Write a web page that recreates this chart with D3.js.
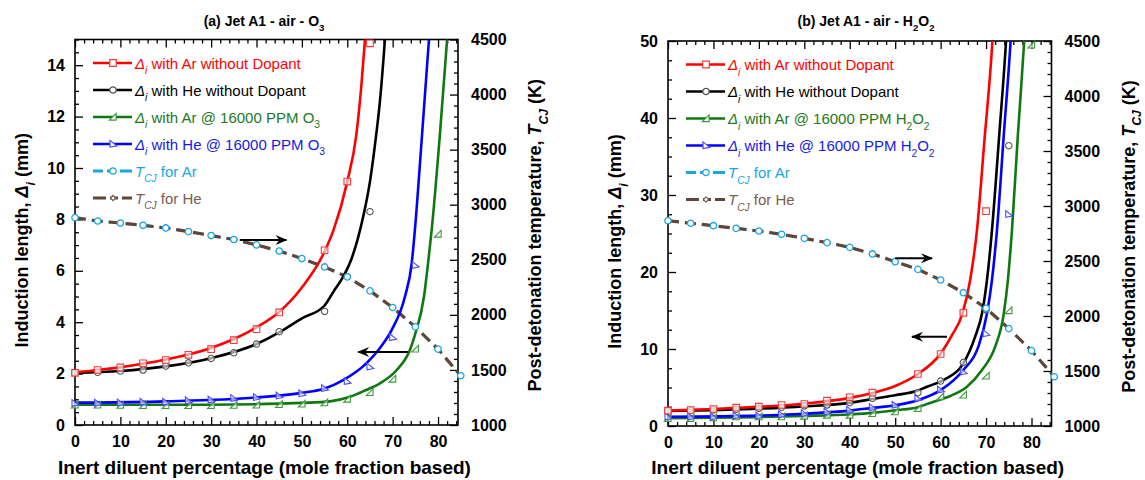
<!DOCTYPE html>
<html>
<head>
<meta charset="utf-8">
<script src="https://cdn.jsdelivr.net/npm/d3@7"></script>
<style>
  html, body { margin: 0; padding: 0; background: #fff; }
  svg { display: block; font-family: "Liberation Sans", Arial, sans-serif; }
</style>
</head>
<body>
<svg id="chart" width="1145" height="480"></svg>
<script>
// ---------------- data ----------------
const diluentPct = [0, 5, 10, 15, 20, 25, 30, 35, 40, 45, 50, 55, 60, 65, 70, 75, 80, 85];
const xTickLabels = [0, 10, 20, 30, 40, 50, 60, 70, 80];
const tempTickLabels = [1000, 1500, 2000, 2500, 3000, 3500, 4000, 4500];
const inductionTicksA = [0, 2, 4, 6, 8, 10, 12, 14];
const inductionTicksB = [0, 10, 20, 30, 40, 50];

// (a) Jet A1 - air - O3 : computed points [diluent %, induction length mm]
const aArPlainPts = [[0,2.03],[5,2.14],[10,2.24],[15,2.4],[20,2.53],[25,2.73],[30,2.95],[35,3.3],[40,3.73],[45,4.38],[55,6.8],[60,9.47],[65,14.85]];
const aHePlainPts = [[0,2.03],[5,2.05],[10,2.1],[15,2.14],[20,2.29],[25,2.42],[30,2.59],[35,2.81],[40,3.15],[45,3.63],[55,4.42],[60,5.77],[65,8.3]];
const aArDopPts = [[0,0.78],[5,0.78],[10,0.77],[15,0.76],[20,0.76],[25,0.76],[30,0.76],[35,0.77],[40,0.78],[45,0.8],[50,0.82],[55,0.87],[60,1.01],[65,1.27],[70,1.79],[75,2.96],[80,7.43]];
const aHeDopPts = [[0,0.85],[5,0.86],[10,0.87],[15,0.9],[20,0.9],[25,0.95],[30,0.98],[35,1.04],[40,1.08],[45,1.14],[50,1.23],[55,1.43],[60,1.7],[65,2.27],[70,3.41],[75,6.22]];
// (a) fitted curves
const aArPlainFit = [[0,2.05],[10,2.25],[20,2.55],[30,3.0],[40,3.8],[45,4.4],[50,5.35],[55,6.75],[57,7.6],[60,9.47],[62,11.3],[63.1,13.2],[63.9,15],[64.3,16]];
const aHePlainFit = [[0,2.03],[10,2.1],[20,2.28],[30,2.6],[40,3.15],[45,3.6],[50,4.15],[55,4.65],[57,5.2],[59.1,5.77],[61,6.5],[62.4,7.3],[63.5,8.1],[65,9.47],[66.1,10.9],[67.2,12.6],[68.3,15],[68.7,16]];
const aArDopFit = [[0,0.79],[30,0.79],[45,0.83],[50,0.86],[56.2,0.92],[60.6,1.1],[64,1.35],[67.2,1.62],[70.9,2.14],[73.8,2.92],[74.9,3.5],[76.9,4.99],[77.8,6.29],[78.6,7.59],[80.4,11.28],[82,15],[82.4,16]];
const aHeDopFit = [[0,0.87],[20,0.92],[40,1.07],[50,1.25],[55,1.42],[59.1,1.75],[64.2,2.4],[67,2.95],[69.8,3.7],[72.7,4.99],[74.2,6.29],[74.9,7.59],[76.4,11.1],[78,15],[78.4,16]];
// (a) post-detonation temperature, K
const aTcjAr = [2883,2852,2834,2813,2789,2756,2720,2684,2635,2580,2511,2435,2345,2218,2067,1891,1689,1447];
const aTcjHe = [2883,2852,2834,2813,2789,2756,2720,2684,2635,2580,2511,2435,2345,2218,2067,1891,1689,1447];

// (b) Jet A1 - air - H2O2 : computed points
const bArPlainPts = [[0,1.99],[5,2.08],[10,2.21],[15,2.38],[20,2.51],[25,2.73],[30,2.86],[35,3.29],[40,3.72],[45,4.33],[55,6.75],[60,9.35],[65,14.7],[70,27.9]];
const bHePlainPts = [[0,1.95],[5,1.99],[10,2.08],[15,2.16],[20,2.29],[25,2.42],[30,2.6],[35,2.73],[40,3.03],[45,3.59],[55,4.33],[60,5.84],[65,8.25],[70,15.1],[75,36.4]];
const bArDopPts = [[0,1.0],[5,1.0],[10,1.08],[15,1.21],[20,1.21],[25,1.21],[30,1.3],[35,1.43],[40,1.43],[45,1.64],[50,1.86],[55,2.29],[60,3.81],[65,4.03],[70,6.5],[75,15.0],[80,49.5]];
const bHeDopPts = [[0,1.21],[5,1.21],[10,1.21],[15,1.34],[20,1.34],[25,1.51],[30,1.64],[35,1.86],[40,2.08],[45,2.42],[50,2.73],[55,3.59],[60,4.7],[65,7.06],[70,12.03],[75,27.5]];
// (b) fitted curves
const bArPlainFit = [[0,2.0],[10,2.2],[20,2.5],[30,2.9],[40,3.65],[45,4.3],[50,5.2],[55,6.75],[60,9.4],[62.5,11.8],[64.8,14.6],[66.5,18.96],[68,25.45],[69.6,36.8],[71.4,50],[71.6,52]];
const bHePlainFit = [[0,1.95],[10,2.05],[20,2.25],[30,2.55],[40,3.0],[45,3.5],[50,4.0],[55,4.6],[57,5.1],[60.6,5.97],[65,8.14],[67.6,11.6],[69.1,14.6],[70.2,18.96],[71.3,25.45],[72.9,37.8],[74.4,50],[74.6,52]];
const bArDopFit = [[0,1.0],[20,1.15],[30,1.3],[40,1.5],[45,1.7],[50,2.05],[55,2.45],[57.5,2.95],[60,3.45],[62.1,3.9],[65.8,5.1],[69.1,7.27],[72,10.3],[73.9,14.6],[74.8,18.96],[75.7,25.45],[77,37.8],[78.4,50],[78.6,52]];
const bHeDopFit = [[0,1.2],[20,1.35],[30,1.6],[40,2.0],[45,2.35],[50,2.7],[55,3.35],[60,4.65],[65,7.27],[68.3,10.3],[70.2,14.6],[71.3,18.96],[72.4,25.45],[73.9,37.8],[75.4,50],[75.6,52]];
// (b) post-detonation temperature, K
const bTcjAr = [2866,2843,2821,2797,2773,2743,2706,2667,2624,2564,2494,2424,2327,2212,2070,1885,1685,1448];
const bTcjHe = [2866,2843,2821,2797,2773,2743,2706,2667,2624,2564,2494,2424,2327,2212,2070,1885,1685,1448];

// arrows pointing to the axis each family belongs to: [x0, y0, x1, y1] in data units
const aArrowTemp = [36.3, 7.2, 46.6, 7.2];
const aArrowInd = [73.4, 2.84, 62.4, 2.84];
const bArrowTemp = [50, 21.8, 58.1, 21.8];
const bArrowInd = [61.4, 11.6, 53.7, 11.6];

// ---------------- styles ----------------
const C = {
  red: "#ff0000", redMk: "#f03c3c",
  black: "#000000", blackMk: "#555555",
  green: "#117811", greenMk: "#3c9a3c", greenTx: "#217a21",
  blue: "#0000ff", blueMk: "#4a4aff", blueTx: "#1818e6",
  cyan: "#1aa6df", brown: "#604538", brownTx: "#7a5d52"
};

const svg = d3.select("#chart");
const defs = svg.append("defs");
defs.append("marker")
  .attr("id", "arrowHead").attr("viewBox", "-12 -6 14 12")
  .attr("refX", 0).attr("refY", 0)
  .attr("markerWidth", 14).attr("markerHeight", 12)
  .attr("markerUnits", "userSpaceOnUse").attr("orient", "auto")
  .append("path").attr("d", "M1,0 L-11,-5 L-7,0 L-11,5 Z").attr("fill", "#000");

// marker shapes
const shapes = {
  square: "M-3.3,-3.3H3.3V3.3H-3.3Z",
  circle: d3.symbol(d3.symbolCircle, 32)(),
  triGreen: "M-3.6,3.1L3.1,3.1L3.1,-3.6Z",
  triBlue: "M-3,-3.6L-3,3.1L3.8,1.8Z",
  diamond: "M0,-2.6L2.6,0L0,2.6L-2.6,0Z"
};

// rich text: parts = [{t, i (italic), sub}]
function rich(sel, parts, size) {
  let shift = 0;
  parts.forEach(p => {
    const ts = sel.append("tspan").text(p.t);
    if (p.i) ts.attr("font-style", "italic");
    const target = p.sub ? size * 0.38 : 0;
    if (target !== shift) ts.attr("dy", target - shift);
    shift = target;
    if (p.sub) ts.attr("font-size", size * 0.68);
  });
}

function drawPanel(cfg) {
  const x = d3.scaleLinear().domain([0, 84.4]).range([cfg.left, cfg.right]);
  const y = d3.scaleLinear().domain([0, cfg.yMax]).range([cfg.bottom, cfg.top]);
  const yT = d3.scaleLinear().domain([1000, 4500]).range([cfg.bottom, cfg.top]);
  const g = svg.append("g");

  const clipId = "clip" + cfg.id;
  defs.append("clipPath").attr("id", clipId).append("rect")
    .attr("x", cfg.left).attr("y", cfg.top)
    .attr("width", cfg.right - cfg.left).attr("height", cfg.bottom - cfg.top);

  // axes: inward ticks, major + minor, mirrored x ticks on top
  const tickStyle = s => {
    s.select(".domain").remove();
    s.selectAll(".tick line").attr("stroke", "#000").attr("stroke-width", 1.3);
    s.selectAll(".tick text").attr("font-size", 16).attr("font-weight", "bold")
      .attr("font-family", "'Liberation Sans', Arial, sans-serif").attr("fill", "#000");
  };
  const xMinor = d3.range(0, 85, 2).filter(v => v % 10 !== 0);
  g.append("g").attr("transform", `translate(0,${cfg.bottom})`)
    .call(d3.axisBottom(x).tickValues(xTickLabels).tickSizeInner(-8).tickSizeOuter(0).tickPadding(11).tickFormat(d3.format("d")))
    .call(tickStyle);
  g.append("g").attr("transform", `translate(0,${cfg.bottom})`)
    .call(d3.axisBottom(x).tickValues(xMinor).tickSizeInner(-4).tickSizeOuter(0).tickFormat(""))
    .call(tickStyle);
  g.append("g").attr("transform", `translate(0,${cfg.top})`)
    .call(d3.axisTop(x).tickValues(xTickLabels).tickSizeInner(-8).tickSizeOuter(0).tickFormat(""))
    .call(tickStyle);
  g.append("g").attr("transform", `translate(0,${cfg.top})`)
    .call(d3.axisTop(x).tickValues(xMinor).tickSizeInner(-4).tickSizeOuter(0).tickFormat(""))
    .call(tickStyle);

  const yMinor = d3.range(0, cfg.yMax + 0.001, cfg.yMinorStep).filter(v => !cfg.yTicks.includes(v));
  g.append("g").attr("transform", `translate(${cfg.left},0)`)
    .call(d3.axisLeft(y).tickValues(cfg.yTicks).tickSizeInner(-8).tickSizeOuter(0).tickPadding(10).tickFormat(d3.format("d")))
    .call(tickStyle);
  g.append("g").attr("transform", `translate(${cfg.left},0)`)
    .call(d3.axisLeft(y).tickValues(yMinor).tickSizeInner(-4).tickSizeOuter(0).tickFormat(""))
    .call(tickStyle);

  const tMinor = d3.range(1100, 4500, 100).filter(v => v % 500 !== 0);
  g.append("g").attr("transform", `translate(${cfg.right},0)`)
    .call(d3.axisRight(yT).tickValues(tempTickLabels).tickSizeInner(-8).tickSizeOuter(0).tickPadding(13).tickFormat(d3.format("d")))
    .call(tickStyle);
  g.append("g").attr("transform", `translate(${cfg.right},0)`)
    .call(d3.axisRight(yT).tickValues(tMinor).tickSizeInner(-4).tickSizeOuter(0).tickFormat(""))
    .call(tickStyle);

  g.append("rect").attr("x", cfg.left).attr("y", cfg.top)
    .attr("width", cfg.right - cfg.left).attr("height", cfg.bottom - cfg.top)
    .attr("fill", "none").attr("stroke", "#000").attr("stroke-width", 1.6);

  // temperature curves (Ar underneath, He dashed on top)
  const tLine = d3.line().x((d, i) => x(diluentPct[i])).y(d => yT(d));
  const plot = g.append("g").attr("clip-path", `url(#${clipId})`);
  plot.append("path").attr("d", tLine(cfg.tAr)).attr("fill", "none")
    .attr("stroke", C.cyan).attr("stroke-width", 2.4).attr("stroke-dasharray", "11,6");
  plot.append("path").attr("d", tLine(cfg.tHe)).attr("fill", "none")
    .attr("stroke", C.brown).attr("stroke-width", 3.2).attr("stroke-dasharray", "11,6");

  // induction length fits
  const fitLine = d3.line().x(d => x(d[0])).y(d => y(d[1])).curve(d3.curveMonotoneX);
  cfg.series.forEach(s => {
    plot.append("path").attr("d", fitLine(s.fit)).attr("fill", "none")
      .attr("stroke", s.color).attr("stroke-width", 2.6);
  });

  // computed points
  const mk = g.append("g");
  cfg.series.forEach(s => {
    mk.selectAll(null).data(s.pts).join("path")
      .attr("d", shapes[s.shape])
      .attr("transform", d => `translate(${x(d[0])},${y(d[1])})`)
      .attr("fill", "#fff").attr("fill-opacity", 0.6)
      .attr("stroke", s.mk).attr("stroke-width", 1.1);
  });
  mk.selectAll(null).data(cfg.tHe).join("path")
    .attr("d", shapes.diamond)
    .attr("transform", (d, i) => `translate(${x(diluentPct[i])},${yT(d)})`)
    .attr("fill", "#fff").attr("stroke", C.brownTx).attr("stroke-width", 1);
  mk.selectAll(null).data(cfg.tAr).join("path")
    .attr("d", shapes.circle)
    .attr("transform", (d, i) => `translate(${x(diluentPct[i])},${yT(d)})`)
    .attr("fill", "#fff").attr("stroke", C.cyan).attr("stroke-width", 1.3);

  // arrows
  [cfg.arrowTemp, cfg.arrowInd].forEach(a => {
    g.append("line").attr("x1", x(a[0])).attr("y1", y(a[1]))
      .attr("x2", x(a[2])).attr("y2", y(a[3]))
      .attr("stroke", "#000").attr("stroke-width", 2)
      .attr("marker-end", "url(#arrowHead)");
  });

  // legend
  const lg = g.append("g");
  const rowY = i => cfg.top + 23.5 + i * 27;
  const lx0 = cfg.left + 18, lx1 = cfg.left + 57, lxm = cfg.left + 38, ltx = cfg.left + 60;
  const delta = [{t: "Δ", i: true}, {t: "i", i: true, sub: true}];
  const tcj = [{t: "T", i: true}, {t: "CJ", i: true, sub: true}];
  const legendRows = [
    {line: C.red, mk: C.redMk, shape: "square", tx: C.red, parts: delta.concat([{t: " with Ar without Dopant"}])},
    {line: C.black, mk: C.blackMk, shape: "circle", tx: "#000", parts: delta.concat([{t: " with He without Dopant"}])},
    {line: C.green, mk: C.greenMk, shape: "triGreen", tx: C.greenTx, parts: delta.concat([{t: " with Ar @ 16000 PPM "}], cfg.dopant)},
    {line: C.blue, mk: C.blueMk, shape: "triBlue", tx: C.blueTx, parts: delta.concat([{t: " with He @ 16000 PPM "}], cfg.dopant)},
    {line: C.cyan, mk: C.cyan, shape: "circle", tx: C.cyan, dash: "10,4,9,4,12", parts: tcj.concat([{t: " for Ar"}])},
    {line: C.brown, mk: C.brownTx, shape: "diamond", tx: C.brownTx, dash: "13,4,8,4,12", parts: tcj.concat([{t: " for He"}])}
  ];
  legendRows.forEach((r, i) => {
    const yy = rowY(i);
    const ln = lg.append("line").attr("x1", lx0).attr("x2", lx1).attr("y1", yy).attr("y2", yy)
      .attr("stroke", r.line).attr("stroke-width", r.dash ? 3 : 2.6);
    if (r.dash) ln.attr("stroke-dasharray", r.dash);
    lg.append("path").attr("d", shapes[r.shape]).attr("transform", `translate(${lxm},${yy})`)
      .attr("fill", "#fff").attr("stroke", r.mk).attr("stroke-width", 1.2);
    const t = lg.append("text").attr("x", ltx).attr("y", yy + 5.5)
      .attr("font-size", 15).attr("fill", r.tx);
    rich(t, r.parts, 15);
  });

  // titles
  const title = g.append("text").attr("x", cfg.titleX).attr("y", 26)
    .attr("text-anchor", "middle").attr("font-size", 14).attr("font-weight", "bold");
  rich(title, cfg.title, 14);

  g.append("text").attr("x", (cfg.left + cfg.right) / 2 - 2).attr("y", 474)
    .attr("text-anchor", "middle").attr("font-size", 19).attr("font-weight", "bold")
    .text("Inert diluent percentage (mole fraction based)");

  const yl = g.append("text").attr("transform", `translate(${cfg.left - 47},${(cfg.top + cfg.bottom) / 2 + 8}) rotate(-90)`)
    .attr("text-anchor", "middle").attr("font-size", 18).attr("font-weight", "bold");
  rich(yl, [{t: "Induction length, "}, {t: "Δ", i: true}, {t: "i", i: true, sub: true}, {t: " (mm)"}], 18);

  const yr = g.append("text").attr("transform", `translate(${cfg.right + 83},${(cfg.top + cfg.bottom) / 2 + 3}) rotate(-90)`)
    .attr("text-anchor", "middle").attr("font-size", 18).attr("font-weight", "bold");
  rich(yr, [{t: "Post-detonation temperature, "}, {t: "T", i: true}, {t: "CJ", i: true, sub: true}, {t: " (K)"}], 18);
}

drawPanel({
  id: "A", left: 75, right: 458, top: 39.5, bottom: 425,
  yMax: 15, yTicks: inductionTicksA, yMinorStep: 0.5,
  titleX: 264,
  title: [{t: "(a) Jet A1 - air - O"}, {t: "3", sub: true}],
  dopant: [{t: "O"}, {t: "3", sub: true}],
  tAr: aTcjAr, tHe: aTcjHe,
  arrowTemp: aArrowTemp, arrowInd: aArrowInd,
  series: [
    {fit: aArDopFit, pts: aArDopPts, color: C.green, mk: C.greenMk, shape: "triGreen"},
    {fit: aHeDopFit, pts: aHeDopPts, color: C.blue, mk: C.blueMk, shape: "triBlue"},
    {fit: aHePlainFit, pts: aHePlainPts, color: C.black, mk: C.blackMk, shape: "circle"},
    {fit: aArPlainFit, pts: aArPlainPts, color: C.red, mk: C.redMk, shape: "square"}
  ]
});

drawPanel({
  id: "B", left: 668, right: 1051.5, top: 41, bottom: 426,
  yMax: 50, yTicks: inductionTicksB, yMinorStep: 2.5,
  titleX: 866,
  title: [{t: "(b) Jet A1 - air - H"}, {t: "2", sub: true}, {t: "O"}, {t: "2", sub: true}],
  dopant: [{t: "H"}, {t: "2", sub: true}, {t: "O"}, {t: "2", sub: true}],
  tAr: bTcjAr, tHe: bTcjHe,
  arrowTemp: bArrowTemp, arrowInd: bArrowInd,
  series: [
    {fit: bArDopFit, pts: bArDopPts, color: C.green, mk: C.greenMk, shape: "triGreen"},
    {fit: bHeDopFit, pts: bHeDopPts, color: C.blue, mk: C.blueMk, shape: "triBlue"},
    {fit: bHePlainFit, pts: bHePlainPts, color: C.black, mk: C.blackMk, shape: "circle"},
    {fit: bArPlainFit, pts: bArPlainPts, color: C.red, mk: C.redMk, shape: "square"}
  ]
});
</script>
</body>
</html>
